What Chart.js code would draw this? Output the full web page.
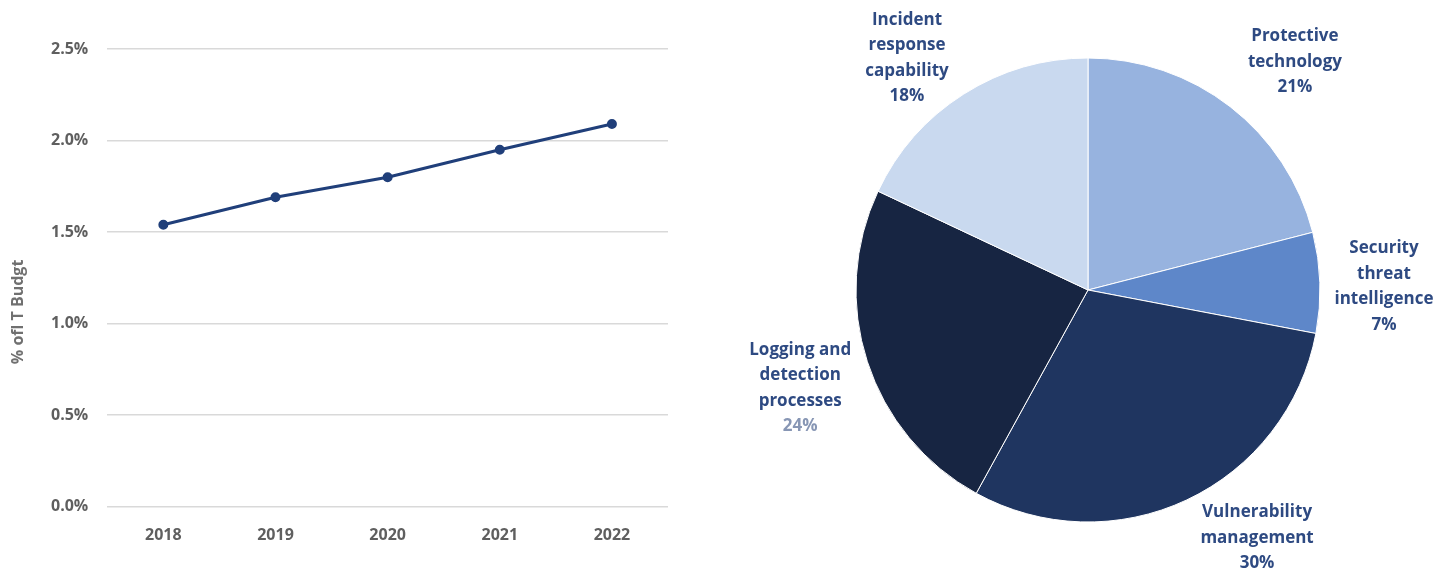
<!DOCTYPE html>
<html>
<head>
<meta charset="utf-8">
<script src="https://cdn.jsdelivr.net/npm/chart.js@4.4.0/dist/chart.umd.min.js"></script>
<style>
  html, body { margin: 0; padding: 0; background: #fff; }
  #wrap { position: relative; width: 1449px; height: 574px; }
  #line-box { position: absolute; left: 0; top: 0; width: 690px; height: 574px; }
  #pie-box { position: absolute; left: 700px; top: 0; width: 749px; height: 574px; }
</style>
</head>
<body>
<div id="wrap">
  <div id="line-box"><canvas id="budget-line"></canvas></div>
  <div id="pie-box"><canvas id="spend-pie"></canvas></div>
</div>
<script>
// line chart: security spend as % of IT budget
const years = ["2018", "2019", "2020", "2021", "2022"];
const budgetShare = [1.54, 1.69, 1.80, 1.95, 2.09];
const yTicks = [0, 0.5, 1.0, 1.5, 2.0, 2.5];

// pie chart: where the spend goes
const areaLabels = [
    ["Protective", "technology"],
    ["Security", "threat", "intelligence"],
    ["Vulnerability", "management"],
    ["Logging and", "detection", "processes"],
    ["Incident", "response", "capability"]
];
const areaShares = [21, 7, 30, 24, 18];
const areaColors = ["#97b3df", "#5e87c9", "#1f3560", "#172542", "#c9d9ef"];

// label placement nudges (degrees off the slice middle, distance from centre)
const labelTurn = [4.4, 1.2, -9.1, -0.8, -5.6];
const labelDist = [308, 296, 300, 304, 294];

const FONT = "'Open Sans', sans-serif";

// y title sits a little below the plot's middle in the original
const yTitlePlugin = {
    id: "yTitle",
    afterDraw(chart) {
        const { ctx, chartArea } = chart;
        ctx.save();
        ctx.translate(18, (chartArea.top + chartArea.bottom) / 2 + 34);
        ctx.rotate(-Math.PI / 2);
        ctx.font = "bold 16px " + FONT;
        ctx.fillStyle = "#707070";
        ctx.textAlign = "center";
        ctx.textBaseline = "middle";
        ctx.fillText("% ofl T Budgt", 0, 0);
        ctx.restore();
    }
};

new Chart(document.getElementById("budget-line"), {
    type: "line",
    data: {
        labels: years,
        datasets: [{
            data: budgetShare,
            borderColor: "#203f7a",
            backgroundColor: "#203f7a",
            borderWidth: 3,
            pointRadius: 3.5,
            pointHoverRadius: 3.5,
            tension: 0
        }]
    },
    options: {
        responsive: true,
        maintainAspectRatio: false,
        animation: false,
        layout: { padding: { left: 32, right: 22, top: 49, bottom: 18 } },
        plugins: { legend: { display: false }, tooltip: { enabled: false } },
        scales: {
            x: {
                offset: true,
                grid: { display: false },
                border: { display: false },
                ticks: { color: "#5f5f5f", padding: 11, font: { family: FONT, size: 16, weight: "bold" } }
            },
            y: {
                min: 0,
                max: 2.5,
                afterBuildTicks: axis => { axis.ticks = yTicks.map(v => ({ value: v })); },
                grid: { color: "#d9d9d9", lineWidth: 1.5, drawTicks: false },
                border: { display: false },
                ticks: {
                    color: "#5f5f5f",
                    padding: 19,
                    font: { family: FONT, size: 16, weight: "bold" },
                    callback: v => v.toFixed(1) + "%"
                }
            }
        }
    },
    plugins: [yTitlePlugin]
});

// labels outside each slice, placed along the slice's middle angle
const outerLabels = {
    id: "outerLabels",
    afterDraw(chart) {
        const { ctx } = chart;
        const meta = chart.getDatasetMeta(0);
        ctx.save();
        ctx.font = "bold 17px " + FONT;
        ctx.textAlign = "center";
        ctx.textBaseline = "middle";
        meta.data.forEach((arc, i) => {
            const mid = (arc.startAngle + arc.endAngle) / 2 + labelTurn[i] * Math.PI / 180;
            const cx = arc.x + Math.cos(mid) * labelDist[i];
            const cy = arc.y + Math.sin(mid) * labelDist[i];
            const lines = areaLabels[i].concat([areaShares[i] + "%"]);
            const lh = 25.5;
            const y0 = cy - (lines.length - 1) * lh / 2;
            lines.forEach((t, j) => {
                const isPct = j === lines.length - 1;
                ctx.fillStyle = (isPct && i === 3) ? "#8796b4" : "#2e4a82";
                ctx.fillText(t, cx, y0 + j * lh);
            });
        });
        ctx.restore();
    }
};

new Chart(document.getElementById("spend-pie"), {
    type: "pie",
    data: {
        labels: areaLabels.map(l => l.join(" ")),
        datasets: [{
            data: areaShares,
            backgroundColor: areaColors,
            borderColor: "#ffffff",
            borderWidth: 1
        }]
    },
    options: {
        responsive: true,
        maintainAspectRatio: false,
        animation: false,
        radius: 232,
        layout: { padding: { left: 27, right: 0, top: 6, bottom: 0 } },
        plugins: { legend: { display: false }, tooltip: { enabled: false } }
    },
    plugins: [outerLabels]
});
</script>
</body>
</html>
